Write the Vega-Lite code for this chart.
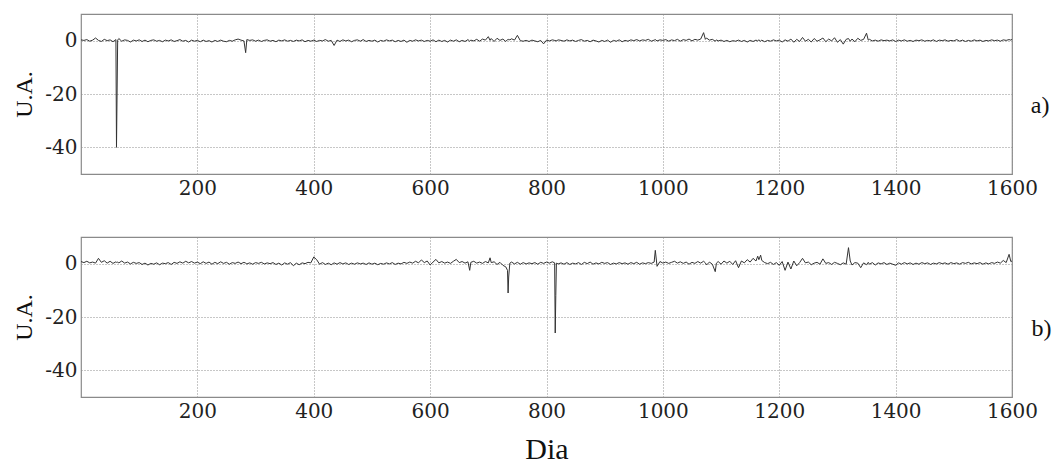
{
  "$schema": "https://vega.github.io/schema/vega-lite/v6.json",
  "padding": {"left": 12, "top": 13, "right": 0, "bottom": 0},
  "background": "white",
  "config": {
    "view": {"stroke": "#8a8a8a", "strokeWidth": 1.2},
    "axis": {
      "labelFont": "DejaVu Serif", "labelFontSize": 20, "labelColor": "#222",
      "ticks": false, "domain": false, "labelFlush": false,
      "gridColor": "#8f8f8f", "gridDash": [1, 2], "gridWidth": 1,
      "labelPadding": 4, "labelExpr": "'' + datum.value",
      "titleFont": "Liberation Serif", "titleFontWeight": "normal", "titleColor": "#111"
    },
    "title": {"font": "Liberation Serif", "fontWeight": "normal", "color": "#111"}
  },
  "data": {"values": [
    {"d":0,"a":0.3,"b":0.8},{"d":5,"a":0.1,"b":0.4},{"d":10,"a":0.4,"b":0.9},{"d":15,"a":-0.2,"b":0.3},{"d":20,"a":0.2,"b":0.6},{"d":25,"a":1.0,"b":0.2},{"d":30,"a":0.1,"b":2.0},{"d":35,"a":-0.3,"b":0.5},{"d":40,"a":0.5,"b":1.1},{"d":45,"a":0.0,"b":0.2},{"d":50,"a":0.3,"b":0.9},{"d":55,"a":-0.4,"b":0.1},{"d":60,"a":0.4,"b":0.7},{"d":61,"a":-40,"b":0.5},{"d":62,"a":-20,"b":0.4},{"d":63,"a":0.2,"b":0.6},{"d":65,"a":0.8,"b":0.3},{"d":70,"a":-0.2,"b":1.0},{"d":75,"a":0.3,"b":0.2},{"d":80,"a":0.1,"b":0.6},{"d":85,"a":-0.5,"b":-0.1},{"d":90,"a":0.2,"b":0.5},{"d":95,"a":-0.1,"b":0.1},
    {"d":100,"a":0.3,"b":0.4},{"d":105,"a":-0.3,"b":-0.3},{"d":110,"a":0.2,"b":0.2},{"d":115,"a":-0.4,"b":-0.5},{"d":120,"a":0.1,"b":0.1},{"d":125,"a":0.3,"b":-0.2},{"d":130,"a":-0.2,"b":0.3},{"d":135,"a":0.1,"b":-0.4},{"d":140,"a":-0.4,"b":0.2},{"d":145,"a":0.2,"b":0.0},{"d":150,"a":-0.1,"b":0.4},{"d":155,"a":0.3,"b":-0.3},{"d":160,"a":-0.3,"b":0.5},{"d":165,"a":0.0,"b":0.1},{"d":170,"a":0.4,"b":0.7},{"d":175,"a":-0.2,"b":0.2},{"d":180,"a":0.1,"b":0.9},{"d":185,"a":-0.5,"b":0.3},{"d":190,"a":0.2,"b":0.8},{"d":195,"a":-0.2,"b":0.2},
    {"d":200,"a":0.1,"b":0.6},{"d":205,"a":-0.4,"b":0.0},{"d":210,"a":0.2,"b":0.7},{"d":215,"a":-0.3,"b":0.1},{"d":220,"a":0.0,"b":0.6},{"d":225,"a":-0.5,"b":-0.2},{"d":230,"a":0.1,"b":0.5},{"d":235,"a":-0.3,"b":0.0},{"d":240,"a":0.2,"b":0.7},{"d":245,"a":-0.2,"b":0.1},{"d":250,"a":-0.4,"b":0.5},{"d":255,"a":0.1,"b":-0.2},{"d":260,"a":-0.2,"b":0.4},{"d":265,"a":0.3,"b":0.1},{"d":270,"a":0.6,"b":0.6},{"d":275,"a":0.2,"b":0.0},{"d":280,"a":-0.1,"b":0.5},{"d":283,"a":-4.5,"b":0.2},{"d":285,"a":0.4,"b":-0.1},{"d":290,"a":0.1,"b":0.3},{"d":295,"a":0.3,"b":-0.2},
    {"d":300,"a":-0.2,"b":0.4},{"d":305,"a":0.2,"b":0.1},{"d":310,"a":-0.3,"b":0.5},{"d":315,"a":0.1,"b":-0.1},{"d":320,"a":0.3,"b":0.3},{"d":325,"a":-0.2,"b":0.0},{"d":330,"a":0.1,"b":0.4},{"d":335,"a":-0.4,"b":-0.3},{"d":340,"a":0.2,"b":0.2},{"d":345,"a":-0.1,"b":-0.5},{"d":350,"a":0.3,"b":0.3},{"d":355,"a":-0.2,"b":-0.2},{"d":360,"a":0.1,"b":0.4},{"d":365,"a":-0.3,"b":-0.8},{"d":370,"a":0.2,"b":0.2},{"d":375,"a":-0.1,"b":-0.4},{"d":380,"a":0.3,"b":0.3},{"d":385,"a":-0.4,"b":0.0},{"d":390,"a":0.1,"b":0.5},{"d":395,"a":-0.2,"b":0.3},
    {"d":400,"a":0.2,"b":2.5},{"d":405,"a":-0.3,"b":1.5},{"d":410,"a":0.1,"b":-0.2},{"d":415,"a":-0.1,"b":0.4},{"d":420,"a":0.4,"b":-0.3},{"d":425,"a":-0.2,"b":0.2},{"d":430,"a":0.1,"b":-0.4},{"d":435,"a":-1.8,"b":0.3},{"d":440,"a":0.2,"b":-0.2},{"d":445,"a":-0.3,"b":0.4},{"d":450,"a":0.3,"b":-0.1},{"d":455,"a":-0.1,"b":0.3},{"d":460,"a":0.2,"b":-0.3},{"d":465,"a":-0.4,"b":0.2},{"d":470,"a":0.1,"b":-0.2},{"d":475,"a":0.3,"b":0.3},{"d":480,"a":-0.2,"b":-0.1},{"d":485,"a":0.4,"b":0.2},{"d":490,"a":-0.3,"b":-0.3},{"d":495,"a":0.1,"b":0.3},
    {"d":500,"a":-0.2,"b":-0.2},{"d":505,"a":0.2,"b":0.2},{"d":510,"a":-0.5,"b":-0.4},{"d":515,"a":0.1,"b":0.1},{"d":520,"a":-0.2,"b":-0.2},{"d":525,"a":0.3,"b":0.3},{"d":530,"a":-0.1,"b":-0.1},{"d":535,"a":0.2,"b":0.4},{"d":540,"a":-0.4,"b":-0.3},{"d":545,"a":0.1,"b":0.2},{"d":550,"a":-0.3,"b":-0.1},{"d":555,"a":0.2,"b":0.5},{"d":560,"a":-0.6,"b":0.1},{"d":565,"a":0.1,"b":0.6},{"d":570,"a":-0.2,"b":0.2},{"d":575,"a":0.3,"b":0.9},{"d":580,"a":-0.1,"b":0.3},{"d":585,"a":0.2,"b":1.4},{"d":590,"a":-0.3,"b":0.4},{"d":595,"a":0.1,"b":1.0},
    {"d":600,"a":-0.2,"b":-0.5},{"d":605,"a":0.3,"b":0.6},{"d":610,"a":-0.4,"b":1.6},{"d":615,"a":0.2,"b":0.3},{"d":620,"a":-0.3,"b":0.8},{"d":625,"a":0.1,"b":0.2},{"d":630,"a":-0.5,"b":0.6},{"d":635,"a":0.2,"b":0.1},{"d":640,"a":-0.2,"b":0.9},{"d":645,"a":0.3,"b":1.6},{"d":650,"a":-0.4,"b":0.4},{"d":655,"a":0.1,"b":0.8},{"d":660,"a":-0.3,"b":0.2},{"d":665,"a":0.4,"b":0.7},{"d":668,"a":-0.2,"b":-2.5},{"d":670,"a":0.2,"b":0.5},{"d":675,"a":-0.1,"b":0.9},{"d":680,"a":0.5,"b":0.2},{"d":685,"a":-0.2,"b":0.6},{"d":690,"a":0.6,"b":0.1},{"d":695,"a":0.2,"b":0.8},
    {"d":700,"a":1.5,"b":0.3},{"d":703,"a":0.1,"b":2.2},{"d":705,"a":0.8,"b":0.4},{"d":710,"a":-0.3,"b":0.7},{"d":715,"a":0.9,"b":-0.3},{"d":720,"a":0.1,"b":0.5},{"d":725,"a":0.6,"b":-0.6},{"d":730,"a":-0.3,"b":-1.2},{"d":733,"a":0.4,"b":-2.5},{"d":734,"a":0.2,"b":-11},{"d":735,"a":0.5,"b":-5},{"d":737,"a":0.3,"b":0.2},{"d":740,"a":0.7,"b":0.6},{"d":745,"a":0.2,"b":-0.1},{"d":750,"a":2.0,"b":0.5},{"d":755,"a":0.0,"b":-0.2},{"d":760,"a":-0.2,"b":0.4},{"d":765,"a":0.1,"b":-0.1},{"d":770,"a":-0.3,"b":0.3},{"d":775,"a":0.2,"b":0.0},{"d":780,"a":-0.1,"b":0.4},{"d":785,"a":-0.4,"b":-0.2},{"d":790,"a":0.1,"b":0.5},{"d":795,"a":-1.2,"b":0.1},
    {"d":800,"a":0.2,"b":0.6},{"d":805,"a":-0.1,"b":0.2},{"d":810,"a":0.3,"b":0.7},{"d":814,"a":0.1,"b":0.3},{"d":815,"a":-0.2,"b":-26},{"d":816,"a":0.2,"b":-12},{"d":817,"a":-0.1,"b":0.2},{"d":820,"a":0.3,"b":-0.1},{"d":825,"a":0.1,"b":0.3},{"d":830,"a":-0.2,"b":-0.2},{"d":835,"a":0.3,"b":0.4},{"d":840,"a":-0.1,"b":-0.3},{"d":845,"a":0.2,"b":0.2},{"d":850,"a":-0.3,"b":-0.1},{"d":855,"a":0.1,"b":0.4},{"d":860,"a":0.4,"b":-0.3},{"d":865,"a":-0.2,"b":0.5},{"d":870,"a":0.1,"b":0.0},{"d":875,"a":-0.4,"b":0.6},{"d":880,"a":0.2,"b":-0.2},{"d":885,"a":-0.1,"b":0.3},{"d":890,"a":-0.5,"b":-0.1},{"d":895,"a":0.1,"b":0.5},
    {"d":900,"a":-0.3,"b":0.1},{"d":905,"a":0.2,"b":0.4},{"d":910,"a":-0.6,"b":-0.3},{"d":915,"a":0.1,"b":0.2},{"d":920,"a":-0.2,"b":-0.1},{"d":925,"a":0.3,"b":0.4},{"d":930,"a":-0.4,"b":0.0},{"d":935,"a":0.1,"b":0.3},{"d":940,"a":-0.2,"b":-0.2},{"d":945,"a":0.3,"b":0.4},{"d":950,"a":0.0,"b":0.0},{"d":955,"a":0.4,"b":0.5},{"d":960,"a":-0.1,"b":-0.2},{"d":965,"a":0.3,"b":0.3},{"d":970,"a":0.1,"b":0.0},{"d":975,"a":0.5,"b":0.4},{"d":980,"a":-0.2,"b":0.1},{"d":985,"a":0.2,"b":0.6},{"d":987,"a":0.4,"b":5.0},{"d":990,"a":-0.1,"b":-1.0},{"d":995,"a":0.3,"b":0.8},
    {"d":1000,"a":0.1,"b":0.2},{"d":1005,"a":0.4,"b":0.6},{"d":1010,"a":-0.2,"b":0.1},{"d":1015,"a":0.3,"b":0.5},{"d":1020,"a":0.0,"b":0.9},{"d":1025,"a":0.5,"b":0.2},{"d":1030,"a":-0.2,"b":0.7},{"d":1035,"a":0.4,"b":0.1},{"d":1040,"a":0.1,"b":0.6},{"d":1045,"a":0.6,"b":-0.2},{"d":1050,"a":-0.1,"b":0.5},{"d":1055,"a":0.5,"b":0.1},{"d":1060,"a":0.2,"b":0.8},{"d":1065,"a":0.6,"b":0.2},{"d":1070,"a":3.0,"b":0.9},{"d":1073,"a":0.5,"b":0.3},{"d":1075,"a":1.0,"b":-0.5},{"d":1080,"a":0.2,"b":0.6},{"d":1085,"a":0.5,"b":-0.2},{"d":1090,"a":-0.2,"b":-3.0},{"d":1092,"a":0.3,"b":0.2},{"d":1095,"a":-0.1,"b":0.8},
    {"d":1100,"a":0.2,"b":-0.2},{"d":1105,"a":-0.3,"b":1.0},{"d":1110,"a":0.1,"b":0.2},{"d":1115,"a":-0.4,"b":0.9},{"d":1120,"a":0.0,"b":-0.3},{"d":1125,"a":-0.2,"b":1.1},{"d":1130,"a":0.2,"b":-1.5},{"d":1135,"a":-0.3,"b":1.0},{"d":1140,"a":0.1,"b":0.3},{"d":1145,"a":-0.5,"b":1.5},{"d":1150,"a":0.1,"b":0.6},{"d":1155,"a":-0.3,"b":2.0},{"d":1160,"a":0.2,"b":1.0},{"d":1163,"a":-0.1,"b":2.8},{"d":1165,"a":0.3,"b":1.5},{"d":1168,"a":-0.2,"b":3.2},{"d":1170,"a":0.2,"b":1.2},{"d":1175,"a":-0.4,"b":0.4},{"d":1180,"a":0.1,"b":0.0},{"d":1185,"a":-0.2,"b":0.5},{"d":1190,"a":0.3,"b":-0.3},{"d":1195,"a":-0.1,"b":0.4},
    {"d":1200,"a":0.2,"b":-0.6},{"d":1205,"a":-0.5,"b":0.8},{"d":1210,"a":0.3,"b":-2.5},{"d":1215,"a":-0.2,"b":0.6},{"d":1220,"a":0.6,"b":-2.0},{"d":1225,"a":-0.6,"b":1.0},{"d":1230,"a":0.5,"b":-0.8},{"d":1235,"a":-0.3,"b":0.4},{"d":1240,"a":1.2,"b":2.0},{"d":1245,"a":-0.2,"b":0.3},{"d":1250,"a":0.5,"b":0.6},{"d":1255,"a":-0.5,"b":-0.4},{"d":1260,"a":0.8,"b":0.2},{"d":1265,"a":-0.2,"b":0.5},{"d":1270,"a":0.3,"b":-0.2},{"d":1275,"a":1.0,"b":1.8},{"d":1280,"a":-0.4,"b":0.1},{"d":1285,"a":0.6,"b":0.4},{"d":1290,"a":-0.1,"b":-0.3},{"d":1295,"a":1.1,"b":0.5},
    {"d":1300,"a":-0.6,"b":0.1},{"d":1305,"a":0.4,"b":-0.4},{"d":1310,"a":-1.3,"b":0.3},{"d":1315,"a":0.5,"b":-0.2},{"d":1319,"a":0.8,"b":6.0},{"d":1322,"a":-0.2,"b":1.0},{"d":1325,"a":0.6,"b":-0.5},{"d":1330,"a":-0.4,"b":0.4},{"d":1335,"a":0.9,"b":0.2},{"d":1340,"a":0.1,"b":-1.5},{"d":1345,"a":0.5,"b":0.3},{"d":1350,"a":2.8,"b":-0.4},{"d":1353,"a":0.2,"b":0.5},{"d":1355,"a":0.5,"b":-0.2},{"d":1360,"a":-0.1,"b":0.4},{"d":1365,"a":0.2,"b":-0.5},{"d":1370,"a":-0.2,"b":0.3},{"d":1375,"a":0.3,"b":-0.1},{"d":1380,"a":0.0,"b":0.4},{"d":1385,"a":0.2,"b":-0.3},{"d":1390,"a":-0.1,"b":0.2},{"d":1395,"a":0.3,"b":-0.2},
    {"d":1400,"a":-0.3,"b":-0.6},{"d":1405,"a":0.2,"b":0.3},{"d":1410,"a":-0.1,"b":-0.2},{"d":1415,"a":0.3,"b":0.4},{"d":1420,"a":-0.2,"b":-0.1},{"d":1425,"a":0.1,"b":0.3},{"d":1430,"a":-0.3,"b":-0.3},{"d":1435,"a":0.2,"b":0.2},{"d":1440,"a":0.0,"b":-0.2},{"d":1445,"a":0.3,"b":0.4},{"d":1450,"a":-0.2,"b":0.0},{"d":1455,"a":0.1,"b":0.3},{"d":1460,"a":-0.1,"b":-0.3},{"d":1465,"a":0.3,"b":0.2},{"d":1470,"a":-0.3,"b":-0.1},{"d":1475,"a":0.2,"b":0.4},{"d":1480,"a":0.0,"b":0.0},{"d":1485,"a":0.3,"b":0.3},{"d":1490,"a":-0.2,"b":-0.2},{"d":1495,"a":0.1,"b":0.4},
    {"d":1500,"a":-0.1,"b":0.0},{"d":1505,"a":0.4,"b":0.3},{"d":1510,"a":-0.2,"b":-0.2},{"d":1515,"a":0.2,"b":0.4},{"d":1520,"a":-0.3,"b":0.1},{"d":1525,"a":0.1,"b":0.5},{"d":1530,"a":-0.2,"b":-0.1},{"d":1535,"a":0.3,"b":0.3},{"d":1540,"a":-0.1,"b":0.0},{"d":1545,"a":0.2,"b":0.4},{"d":1550,"a":-0.3,"b":-0.2},{"d":1555,"a":0.1,"b":0.3},{"d":1560,"a":-0.1,"b":-0.1},{"d":1565,"a":0.3,"b":0.4},{"d":1570,"a":0.0,"b":0.1},{"d":1575,"a":0.2,"b":0.6},{"d":1580,"a":-0.2,"b":0.2},{"d":1585,"a":0.3,"b":1.2},{"d":1590,"a":0.1,"b":0.4},{"d":1595,"a":0.4,"b":3.5},{"d":1598,"a":0.2,"b":0.8},{"d":1600,"a":0.5,"b":1.0}
  ]},
  "spacing": 37,
  "vconcat": [
    {
      "width": 931, "height": 160,
      "title": {"text": "a)", "orient": "right", "angle": 0, "anchor": "middle", "fontSize": 24, "offset": -16},
      "mark": {"type": "line", "color": "#333", "strokeWidth": 1, "interpolate": "linear"},
      "encoding": {
        "x": {"field": "d", "type": "quantitative", "scale": {"domain": [0, 1600], "nice": false, "zero": false},
              "axis": {"title": null, "values": [200, 400, 600, 800, 1000, 1200, 1400, 1600]}},
        "y": {"field": "a", "type": "quantitative", "scale": {"domain": [-50, 10], "nice": false},
              "axis": {"title": "U.A.", "values": [0, -20, -40], "titleFontSize": 24, "titlePadding": 8}}
      }
    },
    {
      "width": 931, "height": 160,
      "title": {"text": "b)", "orient": "right", "angle": 0, "anchor": "middle", "fontSize": 24, "offset": -16},
      "mark": {"type": "line", "color": "#333", "strokeWidth": 1, "interpolate": "linear"},
      "encoding": {
        "x": {"field": "d", "type": "quantitative", "scale": {"domain": [0, 1600], "nice": false, "zero": false},
              "axis": {"title": "Dia", "titleFontSize": 30, "titlePadding": 13, "values": [200, 400, 600, 800, 1000, 1200, 1400, 1600]}},
        "y": {"field": "b", "type": "quantitative", "scale": {"domain": [-50, 10], "nice": false},
              "axis": {"title": "U.A.", "values": [0, -20, -40], "titleFontSize": 24, "titlePadding": 8}}
      }
    }
  ]
}
